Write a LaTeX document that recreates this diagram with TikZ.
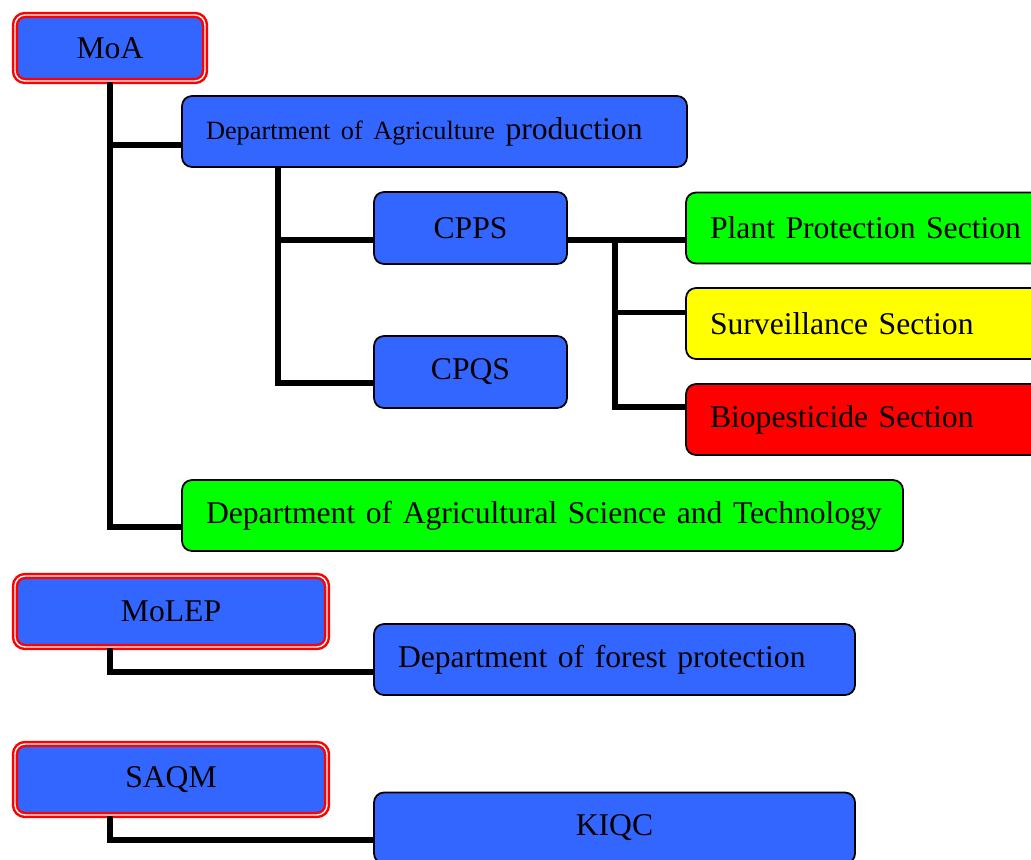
\documentclass[tikz,border=0pt]{standalone}
\usepackage{fontspec}
\setmainfont{Liberation Serif}
\usepackage{tikz}
\usetikzlibrary{calc}

\definecolor{boxblue}{HTML}{3366FF}
\definecolor{boxgreen}{HTML}{00FF00}
\definecolor{boxyellow}{HTML}{FFFF00}
\definecolor{boxred}{HTML}{FF0000}

\begin{document}
\begin{tikzpicture}[
  box/.style={draw=black, line width=1pt, rounded corners=0.2cm, fill=boxblue,
    minimum height=1.42cm, inner xsep=0.48cm, font=\fontsize{18}{22}\selectfont},
  leftbox/.style={box, align=left, text width=#1},
  ministry/.style={box, draw=red, double=white, double distance=0.8pt, line width=1.4pt},
  link/.style={line width=3.2pt}
]
\useasboundingbox (0,0) rectangle (20.62,-17.18);
\clip (0,0) rectangle (20.62,-17.18);

% ministries
\node[ministry, minimum width=3.8cm, minimum height=1.32cm] (moa) at (2.2,-0.96) {MoA};
\node[ministry, minimum width=6.24cm] (molep) at (3.42,-12.23) {MoLEP};
\node[ministry, minimum width=6.24cm] (saqm) at (3.42,-15.59) {SAQM};

% departments
\node[leftbox=9.14cm] (dap) at (8.69,-2.63) {{\fontsize{15}{18}\selectfont Department of Agriculture} production};
\node[leftbox=13.46cm, fill=boxgreen] (ast) at (10.85,-10.31) {\mbox{Department of Agricultural Science and Technology}};
\node[leftbox=8.66cm] (forest) at (12.29,-13.19) {Department of forest protection};
\node[box, minimum width=9.62cm] (kiqc) at (12.29,-16.56) {KIQC};

\node[box, minimum width=3.86cm, minimum height=1.44cm] (cpps) at (9.41,-4.56) {CPPS};
\node[box, minimum width=3.86cm, minimum height=1.44cm] (cpqs) at (9.41,-7.44) {CPQS};

% sections
\node[leftbox=6.52cm, fill=boxgreen] (pps) at (17.46,-4.56) {Plant Protection Section};
\node[leftbox=6.52cm, fill=boxyellow] (surv) at (17.46,-6.47) {Surveillance Section};
\node[leftbox=6.52cm, fill=boxred] (bio) at (17.46,-8.39) {Biopesticide Section};

% connectors
\coordinate (dapin) at ($(dap.west)+(0,-0.27)$);
\coordinate (astin) at ($(ast.west)+(0,-0.23)$);
\coordinate (dapleg) at ($(dap.south west)+(1.94,0)$);
\coordinate (cppsin) at ($(cpps.west)+(0,-0.24)$);
\coordinate (cpqsin) at ($(cpqs.west)+(0,-0.22)$);
\coordinate (split) at ($(cpps.east)+(0.94,-0.24)$);
\coordinate (ppsin) at ($(pps.west)+(0,-0.24)$);
\coordinate (survin) at ($(surv.west)+(0,0.22)$);
\coordinate (bioin) at ($(bio.west)+(0,0.25)$);
\coordinate (molepleg) at ($(molep.south west)+(1.92,0)$);
\coordinate (saqmleg) at ($(saqm.south west)+(1.92,0)$);
\coordinate (forestin) at ($(forest.west)+(0,-0.25)$);
\coordinate (kiqcin) at ($(kiqc.west)+(0,-0.24)$);

\draw[link] (moa.south) |- (astin);
\draw[link] (moa.south |- dapin) -- (dapin);
\draw[link] (dapleg) |- (cpqsin);
\draw[link] (dapleg |- cppsin) -- (cppsin);
\draw[link] ($(cpps.east)+(0,-0.24)$) -- (ppsin);
\draw[link] (split) |- (bioin);
\draw[link] (split |- survin) -- (survin);
\draw[link] (molepleg) |- (forestin);
\draw[link] (saqmleg) |- (kiqcin);

\end{tikzpicture}
\end{document}
